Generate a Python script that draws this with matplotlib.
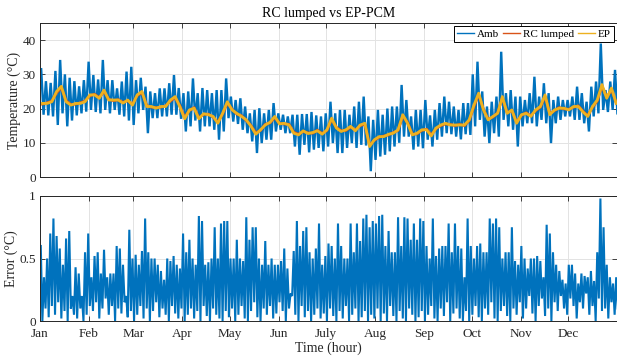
import numpy as np
import matplotlib
matplotlib.use("Agg")
import matplotlib.pyplot as plt
from matplotlib.lines import Line2D

# ---- calendar ----
months = ['Jan', 'Feb', 'Mar', 'Apr', 'May', 'Jun', 'July', 'Aug', 'Sep', 'Oct', 'Nov', 'Dec']
month_start_hour = [0, 744, 1416, 2160, 2880, 3624, 4344, 5088, 5832, 6552, 7296, 8016]

# ---- ambient temperature: 3-day highs and lows (degC) ----
amb_hi = [31.5, 28, 27.5, 31, 34.2, 30, 29, 28, 26.5, 28.3,
          33.7, 29.8, 28.5, 34.2, 28.3, 28.3, 25.9, 27.9, 30.8, 32.2,
          28.3, 29, 26.4, 25, 24.5, 25.9, 25.9, 27.4, 29.8, 26,
          24.5, 25, 28.8, 24.5, 26, 25.4, 24.5, 25.4, 25.4, 28.8,
          23.5, 22.5, 23, 20.6, 18.6, 19.6, 20.1, 18.6, 19.6, 21.6,
          18.6, 18.2, 17.7, 18.2, 18.2, 18.4, 18.4, 19, 18, 17.7,
          18.6, 22, 18.6, 19.6, 19.6, 18.2, 20.6, 22, 23.5, 17.7,
          16.7, 19.6, 18.2, 20, 20.6, 20.6, 26.9, 22.5, 17.7, 19.6,
          19.6, 22.5, 18, 19.6, 21.6, 23.5, 22, 20.6, 19.6, 21.6,
          21.6, 30, 33.7, 25, 20.6, 22, 23.5, 36.6, 24.5, 25.4,
          23.5, 23.5, 22.5, 24.5, 29.3, 23.5, 27.4, 24.5, 22.5, 23.5,
          22.5, 22.5, 23.5, 26.4, 24.5, 22, 26.4, 27.9, 39, 25.4,
          27.9, 31.3]
amb_lo = [18.2, 18, 17.7, 15.2, 18.6, 14.8, 16.5, 18, 18.6, 19.1,
          19.6, 19, 18.6, 19.6, 18.6, 19.6, 18.2, 17.7, 16.5, 15.2,
          18.6, 19.6, 12.8, 17.2, 17.2, 17.7, 17.7, 18.2, 18.2, 17,
          13.3, 14.8, 16.5, 13.3, 14.8, 14.8, 13.8, 10.9, 13.3, 17.2,
          16.2, 15.5, 13.8, 12.8, 10.4, 7, 9.9, 10.9, 10.9, 13.3,
          13.8, 12.8, 12.8, 8.9, 6.5, 9.4, 7.2, 8, 8.5, 7.5,
          8.9, 9.9, 7, 7, 8.5, 9.9, 8.5, 9.4, 9.2, 1.7,
          5, 6, 6.5, 7.5, 8.9, 10, 11.8, 11.8, 8, 8.9,
          8.4, 10.9, 8.9, 10.9, 11.8, 12.8, 12.5, 11.8, 11, 12.5,
          12.3, 14.8, 16.7, 11.8, 9.9, 12.8, 11.8, 16.7, 14.8, 13.8,
          8.9, 14.8, 15.7, 15.7, 14.8, 16.7, 15.7, 9.9, 15.7, 16.7,
          17.7, 17.7, 16.7, 16.7, 15.7, 13.3, 17.7, 18.6, 19.6, 19,
          19.6, 18.6]

# ---- EnergyPlus PCM zone temperature, 3-day samples (degC) ----
ep = [21.5, 21.5, 22, 25, 26.5, 22, 21, 21.5, 21.5, 22,
      24, 24, 23, 25.4, 22.5, 22.5, 22.5, 21.6, 22.5, 21,
      24, 25, 20.6, 20.6, 20.1, 20.6, 20.6, 22.5, 23.5, 20.5,
      17, 19.6, 20.1, 17, 18.5, 18.2, 17.7, 15.7, 18.6, 22,
      19.6, 18.6, 17.7, 16.7, 14.8, 12.5, 13.8, 15.2, 16, 17.7,
      15.5, 15.7, 15.2, 12.8, 12.3, 13.5, 12.7, 13, 13.5, 12.5,
      13.8, 17.2, 14.3, 13.3, 13.8, 14.8, 13.5, 15.2, 15.7, 8.9,
      10.9, 11.8, 11.8, 12.5, 12.8, 13.8, 18.2, 15.7, 12.3, 12.8,
      13.8, 13.8, 12, 14.3, 15.2, 15.7, 15.2, 15.2, 15.2, 15.2,
      16.7, 21, 24.5, 19.6, 16.7, 17.7, 18.6, 23.5, 18.6, 19.6,
      15.7, 18.2, 18.6, 17.7, 19.6, 20.6, 24, 18.2, 19.6, 20.1,
      20.1, 19.6, 20.6, 20.6, 19, 17.7, 20.6, 22.5, 27, 23,
      26, 21.5]

# ---- RC lumped model zone temperature, 3-day samples (degC) ----
rc = [21.3, 21.7, 22.2, 24.6, 26.1, 22.3, 21.2, 21.3, 21.7, 22.2,
      23.7, 24.2, 23.2, 25.0, 22.7, 22.3, 22.6, 21.8, 22.3, 21.3,
      23.8, 24.7, 20.9, 20.4, 20.3, 20.4, 20.8, 22.2, 23.2, 20.8,
      17.4, 19.4, 20.3, 17.3, 18.3, 18.4, 17.5, 16.0, 18.4, 21.6,
      19.8, 18.4, 17.9, 16.5, 15.0, 12.9, 13.6, 15.4, 15.8, 17.4,
      15.7, 15.5, 15.4, 13.1, 12.5, 13.3, 12.9, 12.8, 13.7, 12.7,
      13.6, 16.9, 14.5, 13.5, 13.6, 14.6, 13.7, 15.0, 15.4, 9.3,
      10.7, 11.6, 12.0, 12.3, 13.0, 13.6, 17.8, 15.9, 12.5, 12.6,
      13.6, 14.0, 12.3, 14.1, 15.0, 15.5, 15.4, 15.0, 15.4, 15.0,
      16.5, 20.6, 24.1, 19.8, 16.9, 17.5, 18.8, 23.1, 18.8, 19.4,
      16.0, 18.0, 18.8, 17.9, 19.4, 20.4, 23.6, 18.5, 19.4, 20.3,
      19.9, 19.8, 20.4, 20.8, 19.2, 17.9, 20.4, 22.2, 26.6, 23.2,
      25.6, 21.7]

# ---- absolute error |RC - EP|, 2-day peaks and troughs (degC) ----
err_hi = [0.6, 0.35, 0.5, 0.7, 0.82, 0.68, 0.58, 0.45, 0.66, 0.72,
          0.2, 0.43, 0.38, 0.2, 0.55, 0.7, 0.35, 0.52, 0.55, 0.38,
          0.57, 0.35, 0.38, 0.38, 0.6, 0.58, 0.45, 0.2, 0.73, 0.5,
          0.53, 0.45, 0.56, 0.82, 0.55, 0.5, 0.5, 0.45, 0.4, 0.33,
          0.5, 0.48, 0.52, 0.45, 0.42, 0.7, 0.55, 0.65, 0.5, 0.45,
          0.84, 0.8, 0.45, 0.47, 0.5, 0.75, 0.5, 0.78, 0.8, 0.8,
          0.5, 0.5, 0.65, 0.5, 0.48, 0.83, 0.65, 0.75, 0.75, 0.5,
          0.45, 0.64, 0.45, 0.5, 0.45, 0.45, 0.48, 0.58, 0.42, 0.22,
          0.56, 0.8, 0.6, 0.72, 0.75, 0.55, 0.5, 0.58, 0.78, 0.45,
          0.52, 0.62, 0.6, 0.5, 0.78, 0.6, 0.5, 0.5, 0.78, 0.55,
          0.78, 0.64, 0.82, 0.85, 0.75, 0.8, 0.78, 0.84, 0.85, 0.6,
          0.72, 0.55, 0.55, 0.83, 0.6, 0.83, 0.82, 0.65, 0.78, 0.65,
          0.82, 0.8, 0.6, 0.5, 0.82, 0.52, 0.58, 0.6, 0.6, 0.78,
          0.55, 0.78, 0.6, 0.58, 0.35, 0.82, 0.6, 0.5, 0.6, 0.62,
          0.55, 0.55, 0.82, 0.78, 0.82, 0.75, 0.5, 0.55, 0.55, 0.75,
          0.48, 0.45, 0.6, 0.5, 0.42, 0.5, 0.5, 0.52, 0.48, 0.35,
          0.77, 0.7, 0.55, 0.45, 0.4, 0.33, 0.3, 0.45, 0.45, 0.38,
          0.3, 0.38, 0.36, 0.35, 0.4, 0.32, 0.55, 0.98, 0.75, 0.45,
          0.35, 0.3, 0.35]
err_lo = [0.0, 0.1, 0.03, 0.12, 0.05, 0.15, 0.02, 0.08, 0.0, 0.1, 0.05, 0.02, 0.1, 0.0, 0.05, 0.12,
          0.08, 0.15, 0.02, 0.1, 0.18, 0.05, 0.12, 0.0, 0.1, 0.06, 0.15, 0.03, 0.08, 0.0,
          0.05, 0.12, 0.02, 0.1, 0.0, 0.08, 0.15, 0.03, 0.1, 0.05, 0.0, 0.12, 0.06, 0.02, 0.1,
          0.0, 0.05, 0.1, 0.02, 0.08, 0.0, 0.12, 0.04, 0.0, 0.1, 0.05, 0.02, 0.0, 0.08, 0.03,
          0.1, 0.0, 0.05, 0.12, 0.02, 0.0, 0.08, 0.15, 0.03, 0.0, 0.1, 0.05, 0.12, 0.02, 0.06,
          0.15, 0.08, 0.0, 0.1, 0.2, 0.05, 0.0, 0.12, 0.03, 0.08, 0.0, 0.05, 0.1, 0.02, 0.06,
          0.0, 0.1, 0.04, 0.0, 0.08, 0.02, 0.12, 0.0, 0.05, 0.1, 0.0, 0.03, 0.08, 0.0, 0.05,
          0.02, 0.1, 0.0, 0.06, 0.0, 0.12, 0.04, 0.0, 0.08, 0.02, 0.0, 0.1, 0.05, 0.0, 0.03,
          0.08, 0.0, 0.05, 0.12, 0.02, 0.0, 0.1, 0.04, 0.15, 0.0, 0.06, 0.1, 0.02, 0.0, 0.08,
          0.0, 0.05, 0.12, 0.03, 0.0, 0.1, 0.05, 0.15, 0.02, 0.0, 0.08, 0.12, 0.04, 0.0, 0.1,
          0.05, 0.15, 0.02, 0.1, 0.2, 0.06, 0.0, 0.12, 0.18, 0.04, 0.1, 0.0, 0.15, 0.08, 0.2,
          0.1, 0.05, 0.18, 0.12, 0.02, 0.15, 0.1, 0.22, 0.05, 0.12, 0.0, 0.18, 0.08, 0.1, 0.02,
          0.15, 0.05, 0.1]

# ---- styling ----
C_AMB = '#0072BD'
C_RC = '#D95319'
C_EP = '#EDB120'
AX_COL = '#262626'
GRID_COL = '#e3e3e3'
FONT = ['Liberation Serif', 'DejaVu Serif']

plt.rcParams['font.family'] = FONT


def interleave(hi, lo, step):
    """Alternate high and low samples in time (hours)."""
    n = len(hi)
    t = np.empty(2 * n)
    v = np.empty(2 * n)
    t[0::2] = np.arange(n) * step + step * 0.25
    t[1::2] = np.arange(n) * step + step * 0.75
    v[0::2] = hi
    v[1::2] = lo
    return t, v


def style_axes(ax):
    ax.set_xlim(0, 8760)
    ax.set_xticks(month_start_hour)
    ax.tick_params(direction='in', top=True, right=True, length=3.5, width=0.6,
                   colors=AX_COL, labelsize=9.5)
    ax.tick_params(axis='x', pad=5)
    ax.tick_params(axis='y', pad=3)
    for s in ax.spines.values():
        s.set_linewidth(0.7)
        s.set_color(AX_COL)
    ax.grid(True, color=GRID_COL, lw=0.7)
    ax.set_axisbelow(True)


W, H = 617, 363
fig = plt.figure(figsize=(W / 100, H / 100), dpi=100)
fig.patch.set_facecolor('white')

# ---- top panel: temperatures ----
ax1 = fig.add_axes([40 / W, (H - 177) / H, 577 / W, 154 / H])
t3 = np.arange(len(ep)) * 72 + 36
t_amb, v_amb = interleave(amb_hi, amb_lo, 72)
ax1.plot(t_amb, v_amb, color=C_AMB, lw=1.7, solid_joinstyle='miter')
ax1.plot(t3, rc, color=C_RC, lw=1.9)
ax1.plot(t3, ep, color=C_EP, lw=2.0)
style_axes(ax1)
ax1.set_ylim(0, 45)
ax1.set_yticks([0, 10, 20, 30, 40])
ax1.set_xticklabels([])
ax1.set_ylabel('Temperature (°C)', fontsize=10, color=AX_COL, labelpad=1)
ax1.set_title('RC lumped vs EP-PCM', fontsize=10, color='black', pad=4)

handles = [Line2D([], [], color=C_AMB, lw=1.0),
           Line2D([], [], color=C_RC, lw=1.0),
           Line2D([], [], color=C_EP, lw=1.0)]
leg = ax1.legend(handles, ['Amb', 'RC lumped', 'EP'], loc='upper right', ncol=3,
                 fontsize=8, frameon=True, fancybox=False, framealpha=1,
                 edgecolor='black', handlelength=1.55, handletextpad=0.25,
                 columnspacing=0.35, borderpad=0.25, borderaxespad=0.3)
leg.get_frame().set_linewidth(0.7)

# ---- bottom panel: error ----
ax2 = fig.add_axes([40 / W, (H - 321) / H, 577 / W, 125 / H])
t_err, v_err = interleave(err_hi, err_lo, 48)
ax2.plot(t_err, v_err, color=C_AMB, lw=1.5, solid_joinstyle='miter')
style_axes(ax2)
ax2.set_ylim(0, 1)
ax2.set_yticks([0, 0.5, 1])
ax2.set_yticklabels(['0', '0.5', '1'])
ax2.set_xticklabels(months)
ax2.set_ylabel('Error (°C)', fontsize=10, color=AX_COL, labelpad=1)
ax2.set_xlabel('Time (hour)', fontsize=10, color=AX_COL, labelpad=1)

fig.savefig('out.png', dpi=100, facecolor='white')
